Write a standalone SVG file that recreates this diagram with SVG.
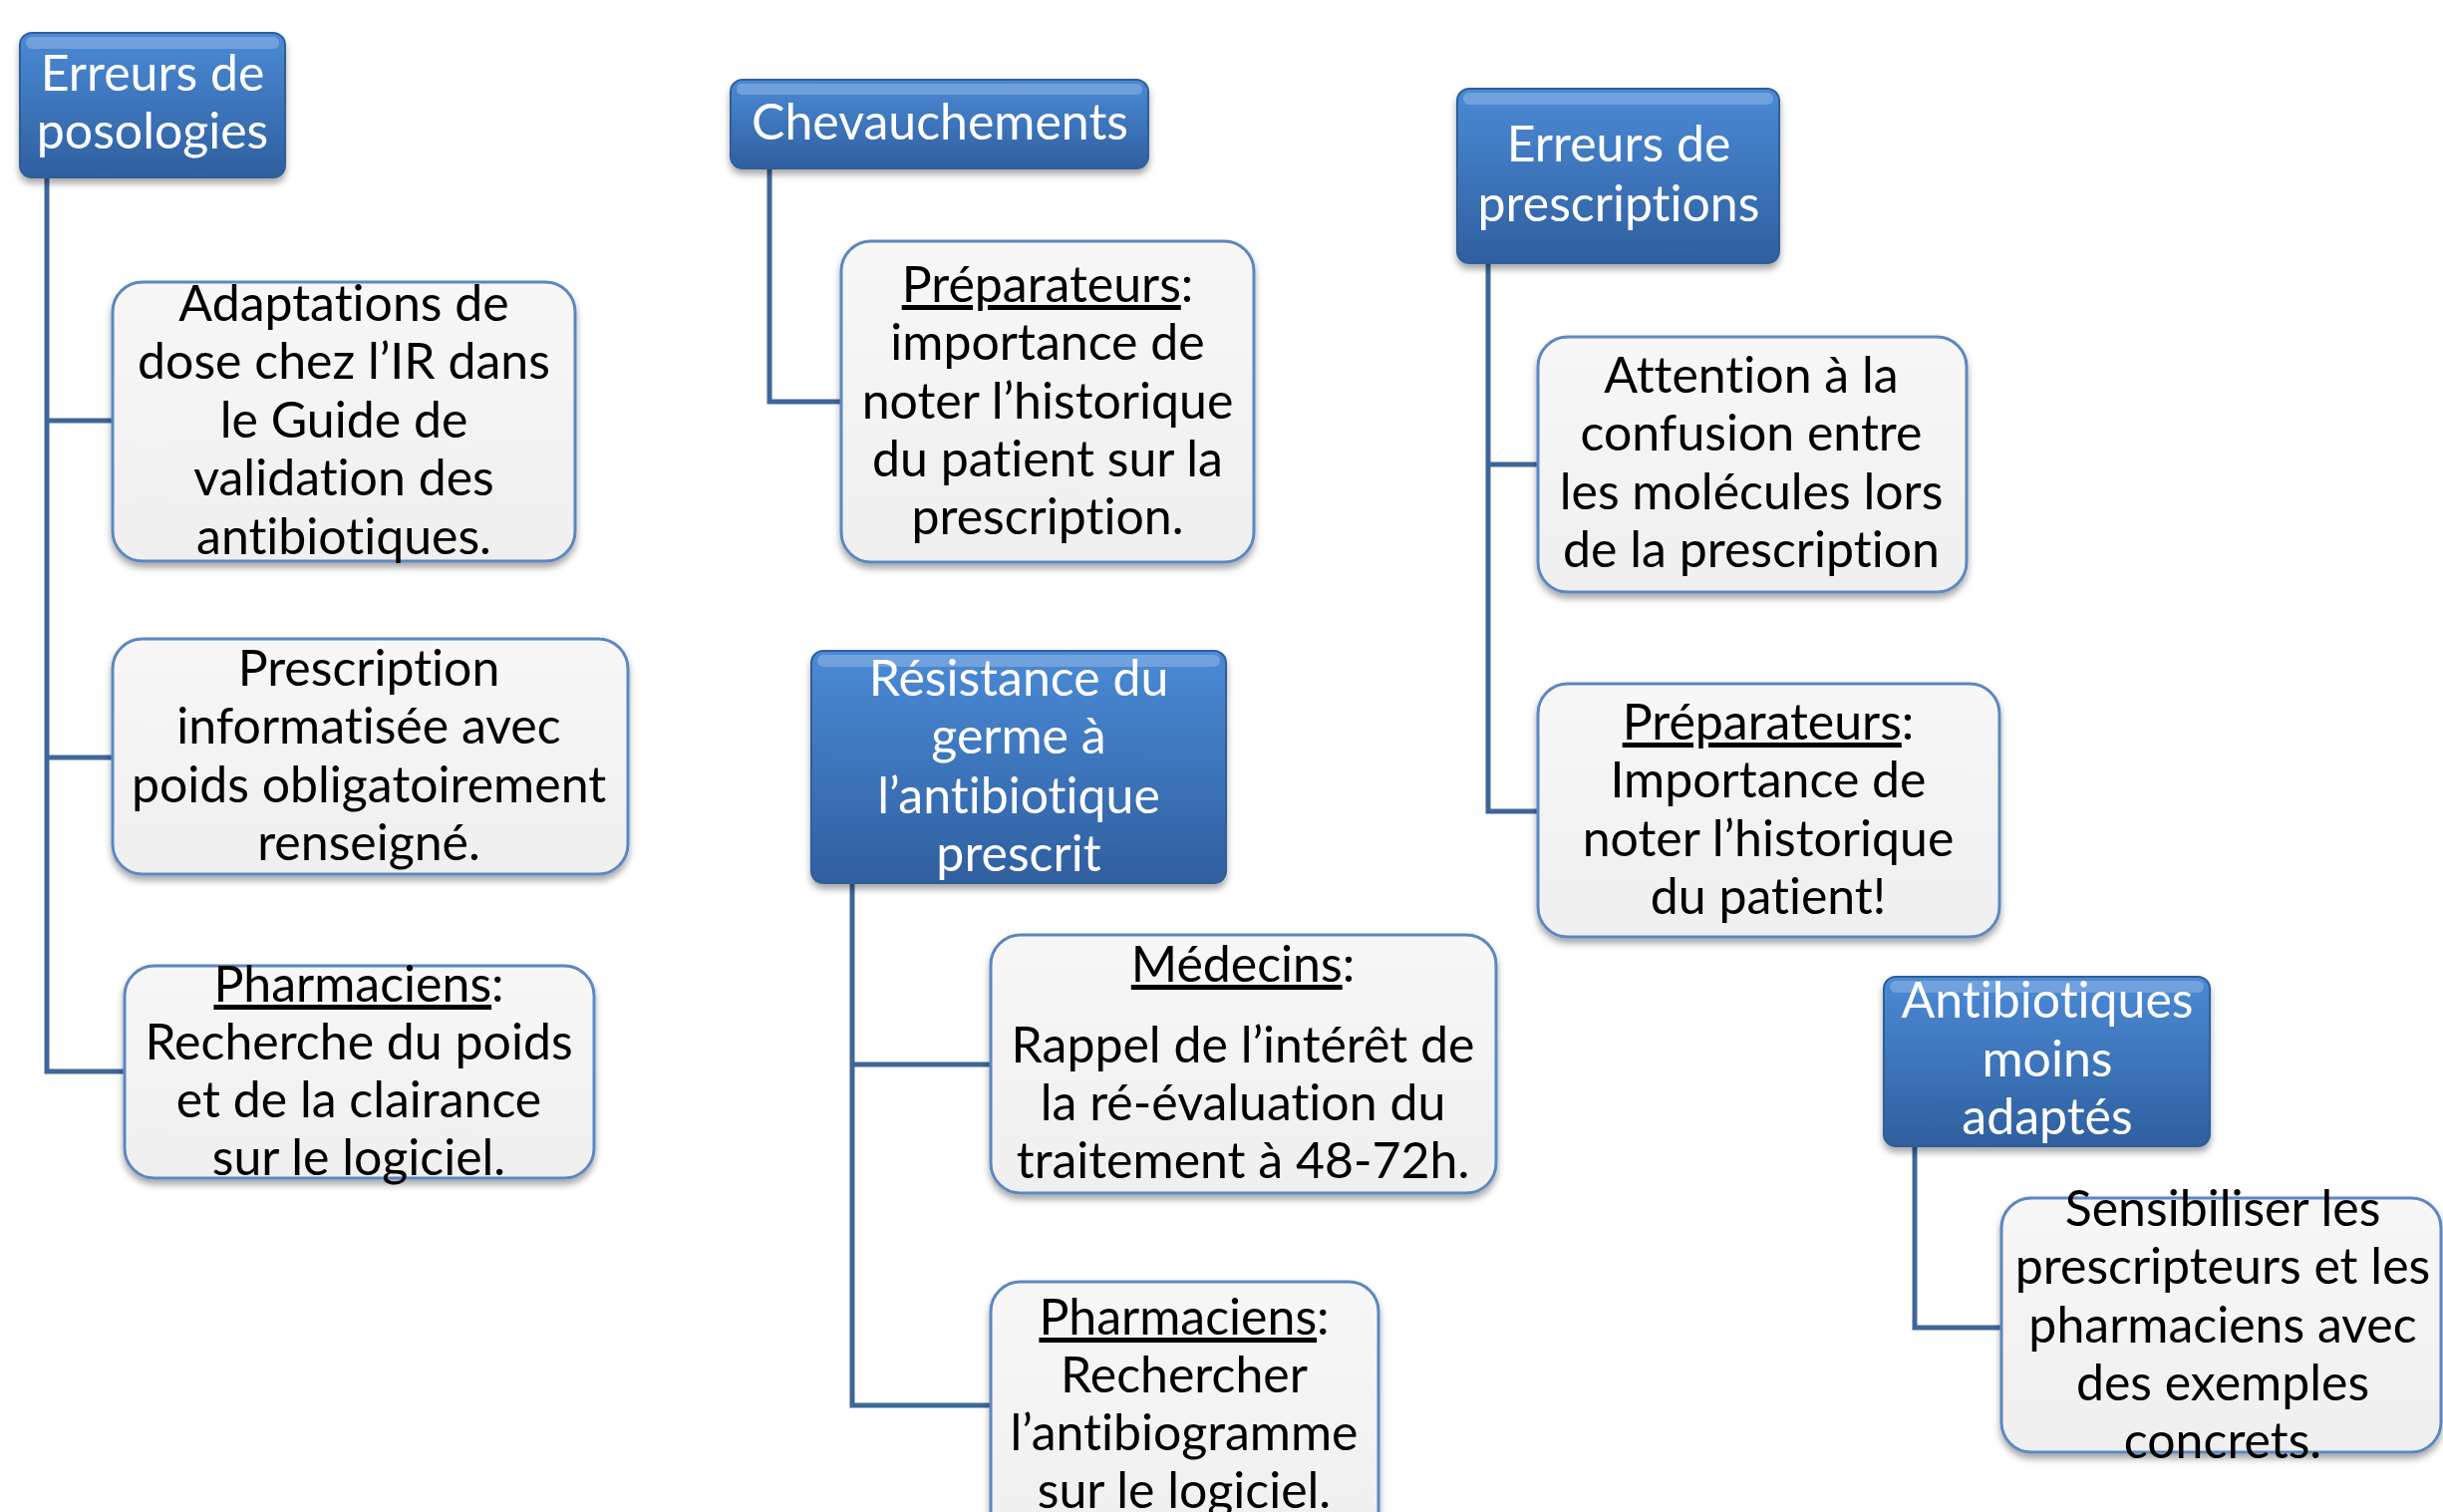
<svg xmlns="http://www.w3.org/2000/svg" width="2451" height="1517" viewBox="0 0 2451 1517">
<style>
.conn{fill:none;stroke:#3f6699;stroke-width:5}
.bbox{fill:url(#blueGrad);stroke:#2f5e99;stroke-width:2}
.gloss{fill:#ffffff;fill-opacity:0.22}
.wbox{fill:url(#grayGrad);stroke:#5b87c0;stroke-width:3}
.t{font-family:Lato,"Open Sans","Liberation Sans",sans-serif;font-size:50px;text-anchor:middle;font-variant-ligatures:none;font-feature-settings:"liga" 0}
.tb{fill:#000000}
.tw{fill:#ffffff}
.u{text-decoration:underline}
</style>
<defs>
<linearGradient id="blueGrad" x1="0" y1="0" x2="0" y2="1">
<stop offset="0" stop-color="#4b8ad6"/>
<stop offset="1" stop-color="#2f5f9f"/>
</linearGradient>
<linearGradient id="grayGrad" x1="0" y1="0" x2="0" y2="1">
<stop offset="0" stop-color="#f7f7f7"/>
<stop offset="1" stop-color="#efefef"/>
</linearGradient>
<filter id="shadow" x="-10%" y="-10%" width="120%" height="130%">
<feDropShadow dx="0" dy="5" stdDeviation="3.5" flood-color="#000000" flood-opacity="0.35"/>
</filter>
</defs>
<rect x="0" y="0" width="2451" height="1517" fill="#ffffff"/>
<g id="connectors">
<path class="conn" d="M47 178 V1075 H125 M47 422 H113 M47 760 H113"/>
<path class="conn" d="M772 169 V403 H844"/>
<path class="conn" d="M1493 264 V814 H1543 M1493 466 H1543"/>
<path class="conn" d="M855 886 V1410 H994 M855 1068 H994"/>
<path class="conn" d="M1921 1150 V1332 H2008"/>
</g>
<g id="n-erreurs-posologies">
<rect class="bbox" x="20" y="33" width="266" height="145" rx="12" filter="url(#shadow)"/>
<rect class="gloss" x="26" y="37" width="254" height="12" rx="6"/>
<text class="t tw" x="153"><tspan x="153" y="91">Erreurs de</tspan><tspan x="153" y="149">posologies</tspan></text>
</g>
<g id="n-adaptations">
<rect class="wbox" x="113" y="283" width="464" height="280" rx="30" filter="url(#shadow)"/>
<text class="t tb"><tspan x="345" y="322">Adaptations de</tspan><tspan x="345" y="380">dose chez l’IR dans</tspan><tspan x="345" y="439">le Guide de</tspan><tspan x="345" y="497">validation des</tspan><tspan x="345" y="556">antibiotiques.</tspan></text>
</g>
<g id="n-prescription-informatisee">
<rect class="wbox" x="113" y="641" width="517" height="236" rx="30" filter="url(#shadow)"/>
<text class="t tb"><tspan x="370" y="688">Prescription</tspan><tspan x="370" y="746">informatisée avec</tspan><tspan x="370" y="805">poids obligatoirement</tspan><tspan x="370" y="863">renseigné.</tspan></text>
</g>
<g id="n-pharmaciens-poids">
<rect class="wbox" x="125" y="969" width="471" height="213" rx="30" filter="url(#shadow)"/>
<text class="t tb"><tspan x="360" y="1005"><tspan class="u">Pharmaciens</tspan>:</tspan><tspan x="360" y="1063">Recherche du poids</tspan><tspan x="360" y="1121">et de la clairance</tspan><tspan x="360" y="1179">sur le logiciel.</tspan></text>
</g>
<g id="n-chevauchements">
<rect class="bbox" x="733" y="80" width="419" height="89" rx="12" filter="url(#shadow)"/>
<rect class="gloss" x="739" y="84" width="407" height="11" rx="5"/>
<text class="t tw" x="943" y="140">Chevauchements</text>
</g>
<g id="n-preparateurs-prescription">
<rect class="wbox" x="844" y="242" width="414" height="322" rx="30" filter="url(#shadow)"/>
<text class="t tb"><tspan x="1051" y="303"><tspan class="u">Préparateurs</tspan>:</tspan><tspan x="1051" y="361">importance de</tspan><tspan x="1051" y="420">noter l’historique</tspan><tspan x="1051" y="478">du patient sur la</tspan><tspan x="1051" y="536">prescription.</tspan></text>
</g>
<g id="n-erreurs-prescriptions">
<rect class="bbox" x="1462" y="89" width="323" height="175" rx="12" filter="url(#shadow)"/>
<rect class="gloss" x="1468" y="93" width="311" height="12" rx="6"/>
<text class="t tw"><tspan x="1624" y="162">Erreurs de</tspan><tspan x="1624" y="222">prescriptions</tspan></text>
</g>
<g id="n-attention">
<rect class="wbox" x="1543" y="338" width="430" height="256" rx="30" filter="url(#shadow)"/>
<text class="t tb"><tspan x="1757" y="394">Attention à la</tspan><tspan x="1757" y="452">confusion entre</tspan><tspan x="1757" y="511">les molécules lors</tspan><tspan x="1757" y="569">de la prescription</tspan></text>
</g>
<g id="n-preparateurs-historique">
<rect class="wbox" x="1543" y="686" width="463" height="254" rx="30" filter="url(#shadow)"/>
<text class="t tb"><tspan x="1774" y="742"><tspan class="u">Préparateurs</tspan>:</tspan><tspan x="1774" y="800">Importance de</tspan><tspan x="1774" y="859">noter l’historique</tspan><tspan x="1774" y="917">du patient!</tspan></text>
</g>
<g id="n-resistance">
<rect class="bbox" x="814" y="653" width="416" height="233" rx="12" filter="url(#shadow)"/>
<rect class="gloss" x="820" y="657" width="404" height="12" rx="6"/>
<text class="t tw"><tspan x="1022" y="698">Résistance du</tspan><tspan x="1022" y="756">germe à</tspan><tspan x="1022" y="816">l’antibiotique</tspan><tspan x="1022" y="874">prescrit</tspan></text>
</g>
<g id="n-medecins">
<rect class="wbox" x="994" y="938" width="507" height="259" rx="30" filter="url(#shadow)"/>
<text class="t tb"><tspan x="1247" y="985"><tspan class="u">Médecins</tspan>:</tspan><tspan x="1247" y="1066">Rappel de l’intérêt de</tspan><tspan x="1247" y="1124">la ré-évaluation du</tspan><tspan x="1247" y="1182">traitement à 48-72h.</tspan></text>
</g>
<g id="n-pharmaciens-antibiogramme">
<rect class="wbox" x="994" y="1286" width="389" height="270" rx="30" filter="url(#shadow)"/>
<text class="t tb"><tspan x="1188" y="1339"><tspan class="u">Pharmaciens</tspan>:</tspan><tspan x="1188" y="1397">Rechercher</tspan><tspan x="1188" y="1455">l’antibiogramme</tspan><tspan x="1188" y="1513">sur le logiciel.</tspan></text>
</g>
<g id="n-antibiotiques-moins-adaptes">
<rect class="bbox" x="1890" y="980" width="327" height="170" rx="12" filter="url(#shadow)"/>
<rect class="gloss" x="1896" y="984" width="315" height="12" rx="6"/>
<text class="t tw"><tspan x="2054" y="1021">Antibiotiques</tspan><tspan x="2054" y="1080">moins</tspan><tspan x="2054" y="1138">adaptés</tspan></text>
</g>
<g id="n-sensibiliser">
<rect class="wbox" x="2008" y="1202" width="441" height="255" rx="30" filter="url(#shadow)"/>
<text class="t tb"><tspan x="2230" y="1230">Sensibiliser les</tspan><tspan x="2230" y="1288">prescripteurs et les</tspan><tspan x="2230" y="1347">pharmaciens avec</tspan><tspan x="2230" y="1405">des exemples</tspan><tspan x="2230" y="1463">concrets.</tspan></text>
</g>
</svg>
